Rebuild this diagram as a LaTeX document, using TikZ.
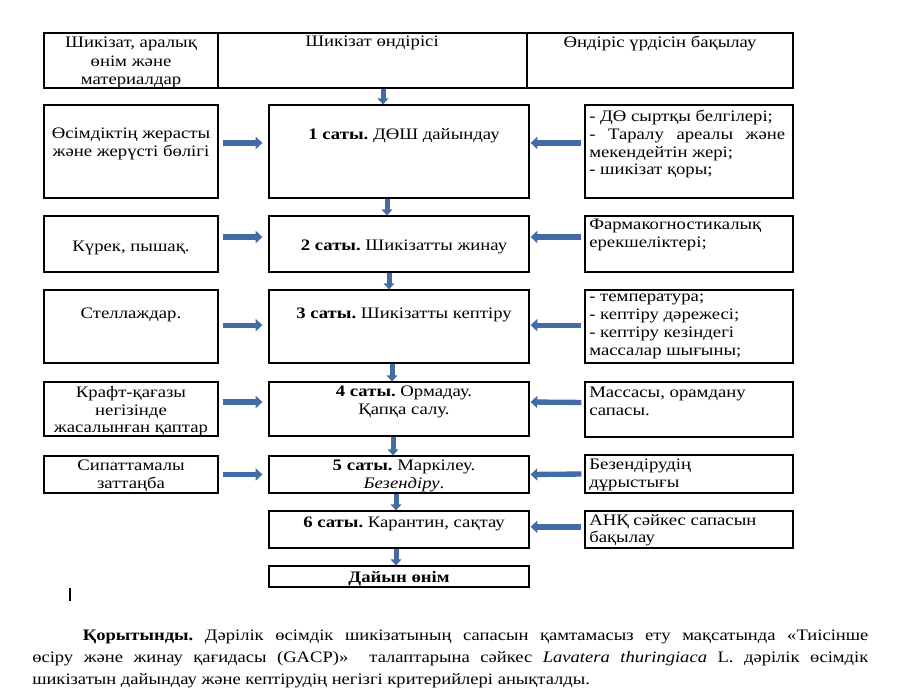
\documentclass[tikz,border=0pt]{standalone}
\usepackage{fontspec}
\setmainfont{Liberation Serif}
\newfontfamily\boxfont[FakeStretch=1.17]{Liberation Serif}
\newfontfamily\parfont[FakeStretch=1.16]{Liberation Serif}
\usetikzlibrary{arrows.meta,fit}
\definecolor{arrowblue}{RGB}{68,108,164}
\frenchspacing
\tikzset{
	box/.style={draw, line width=0.9pt, inner sep=0pt},
	ctxt/.style={inner sep=0pt, anchor=north, align=center, font=\boxfont\fontsize{12}{13.3}\selectfont},
	ltxt/.style={inner sep=0pt, anchor=north west, text width=147pt, align=justify, font=\boxfont\fontsize{12}{13.3}\selectfont},
	down/.style={draw=arrowblue, line width=3.75pt, -{Triangle[width=8pt,length=4.5pt]}},
	side/.style={draw=arrowblue, line width=4pt, -{Triangle[width=9pt,length=5pt]}},
}
\begin{document}
\begin{tikzpicture}[x=0.75pt,y=-0.75pt]
		\useasboundingbox (0,0) rectangle (910,695);
		% header row
			\node[box, fit={(44,33) (218,88)}] (h1) {};
			\node[box, fit={(218,33) (527,88)}] (h2) {};
			\node[box, fit={(527,33) (793,88)}] (h3) {};
			\node[ctxt, font=\boxfont\fontsize{12}{13.9}\selectfont] (h1t) at (131,37) {Шикізат, аралық\\ өнім және\\ материалдар};
			\node[ctxt] (h2t) at (372,36) {Шикізат өндірісі};
			\node[ctxt] (h3t) at (660,36) {Өндіріс үрдісін бақылау};
		% boxes: materials, stages, control
			\foreach \n/\ya/\yb in {1/105/198,2/216/272,3/290/363,4/382/436,5/456/493}{
				\node[box, fit={(44,\ya) (218,\yb)}] (m\n) {};
				}
			\foreach \n/\ya/\yb in {1/105/198,2/216/272,3/290/363,4/382/436,5/456/493,6/511/548,7/566/587}{
				\node[box, fit={(269,\ya) (529,\yb)}] (s\n) {};
				}
			\foreach \n/\ya/\yb in {1/105/198,2/216/272,3/290/363,4/382/437,5/455/493,6/511/548}{
				\node[box, fit={(585,\ya) (793,\yb)}] (c\n) {};
				}
		% texts on the left
			\node[ctxt] (m1t) at (131,128) {Өсімдіктің жерасты\\ және жерүсті бөлігі};
			\node[ctxt] (m2t) at (131,241) {Күрек, пышақ.};
			\node[ctxt] (m3t) at (131,308) {Стеллаждар.};
			\node[ctxt] (m4t) at (131,386) {Крафт-қағазы\\ негізінде\\ жасалынған қаптар};
			\node[ctxt] (m5t) at (131,460) {Сипаттамалы\\ заттаңба};
		% stages
			\node[ctxt] (s1t) at (404,128) {\textbf{1 саты.} ДӨШ дайындау};
			\node[ctxt] (s2t) at (404,240) {\textbf{2 саты.} Шикізатты жинау};
			\node[ctxt] (s3t) at (404,308) {\textbf{3 саты.} Шикізатты кептіру};
			\node[ctxt] (s4t) at (404,386) {\textbf{4 саты.} Ормадау.\\ Қапқа салу.};
			\node[ctxt] (s5t) at (404,460) {\textbf{5 саты.} Маркілеу.\\ \textit{Безендіру}.};
			\node[ctxt] (s6t) at (404,517) {\textbf{6 саты.} Карантин, сақтау};
			\node[ctxt] (s7t) at (399,571) {\textbf{Дайын өнім}};
		% control texts on the right
			\node[ltxt] (c1t) at (589,110) {- ДӨ сыртқы белгілері;\\ - Таралу ареалы және\linebreak мекендейтін жері;\\ - шикізат қоры;};
			\node[ltxt] (c2t) at (589,219) {Фармакогностикалық\\ ерекшеліктері;};
			\node[ltxt] (c3t) at (589,294) {- температура;\\ - кептіру дәрежесі;\\ - кептіру кезіндегі\\ массалар шығыны;};
			\node[ltxt] (c4t) at (589,387) {Массасы, орамдану\\ сапасы.};
			\node[ltxt] (c5t) at (589,459) {Безендірудің\\ дұрыстығы};
			\node[ltxt] (c6t) at (589,514) {АНҚ сәйкес сапасын\\ бақылау};
		% flow down
			\draw[down] ([xshift=-12pt]s1.north |- h2.south) -- ([xshift=-12pt]s1.north);
			\foreach \a/\b/\dx in {1/2/-9,2/3/-7.5,3/4/-5.25,4/5/-4.5,5/6/-2.25,6/7/-2.25}{
				\draw[down] ([xshift=\dx pt]s\a.south) -- ([xshift=\dx pt]s\b.north);
				}
		% arrows in and out
			\foreach \i/\dy in {1/6.4,2/5.25,3/1,4/5.25,5/0,6/2}{
				\ifnum\i<6
				\draw[side, shorten <=3pt, shorten >=4.5pt] ([yshift=\dy pt]m\i.east) -- ([yshift=\dy pt]s\i.west);
				\fi
				\draw[side, shorten <=2.25pt, shorten >=0.75pt] ([yshift=\dy pt]c\i.west) -- ([yshift=\dy pt]s\i.east);
				}
		% cursor mark
			\draw[line width=1.5pt] (70,588) -- (70,601);
		% conclusion
			\node[inner sep=0pt, anchor=north west, text width=627pt, align=justify, font=\parfont\fontsize{12}{16.5}\selectfont] (concl) at (32,630)
				{\hspace*{38pt}\textbf{Қорытынды.} Дәрілік өсімдік шикізатының сапасын қамтамасыз ету мақсатында «Тиісінше\linebreak өсіру және жинау қағидасы (GACP)»\ \ талаптарына сәйкес \textit{Lavatera thuringiaca} L. дәрілік өсімдік\linebreak шикізатын дайындау және кептірудің негізгі критерийлері анықталды.};
	\end{tikzpicture}
\end{document}
